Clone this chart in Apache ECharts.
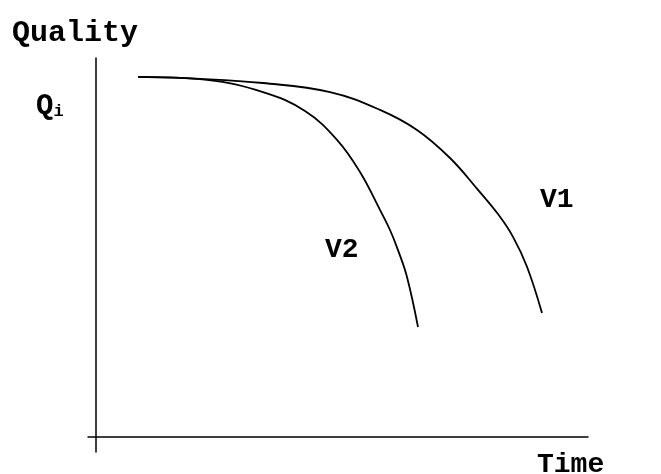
<!DOCTYPE html>
<html>
<head>
<meta charset="utf-8">
<script src="https://cdn.jsdelivr.net/npm/echarts@6/dist/echarts.min.js"></script>
<style>
    html, body { margin: 0; padding: 0; background: #fff; }
    #chart-quality { width: 661px; height: 474px; }
</style>
</head>
<body>
<div id="chart-quality"></div>
<script>
// time (x) and quality (y)
const v1_time    = [8.4, 20.8, 33.4, 46.8, 56.8, 64.2, 70.8, 76.4, 80.4, 83.4, 86.2, 89.2];
const v1_quality = [95.0, 94.5, 93.4, 91.0, 86.3, 81.0, 73.6, 65.2, 58.8, 52.8, 44.9, 32.7];
const v2_time    = [8.4, 22.2, 33.4, 41.8, 48.2, 52.8, 56.8, 58.8, 60.4, 62.2, 64.4];
const v2_quality = [95.0, 94.2, 91.0, 86.0, 78.4, 69.9, 59.9, 54.6, 49.3, 42.2, 29.0];
const series_names = ['V1', 'V2'];

const FONT = "'Courier New', 'Liberation Mono', monospace";
const LINE_COLOR = '#000';

function zip(xs, ys) {
    return xs.map(function (x, i) { return [x, ys[i]]; });
}

let chart_quality = echarts.init(document.getElementById('chart-quality'));

let axis_common = {
    type: 'value',
    axisLine: { show: true, onZero: true, lineStyle: { color: LINE_COLOR, width: 1.5 } },
    axisTick: { show: false },
    axisLabel: { show: false },
    splitLine: { show: false }
};

let option = {
    animation: false,
    grid: { left: 88, right: 73, top: 58, bottom: 22 },
    xAxis: Object.assign({}, axis_common, { min: -1.6, max: 98.4 }),
    yAxis: Object.assign({}, axis_common, { min: -4, max: 100 }),
    series: [
        {
            name: series_names[0],
            type: 'line',
            data: zip(v1_time, v1_quality),
            smooth: 0.4,
            showSymbol: false,
            lineStyle: { color: LINE_COLOR, width: 1.8 }
        },
        {
            name: series_names[1],
            type: 'line',
            data: zip(v2_time, v2_quality),
            smooth: 0.4,
            showSymbol: false,
            lineStyle: { color: LINE_COLOR, width: 1.8 }
        }
    ],
    graphic: [
        { type: 'text', left: 12, top: 18, style: { text: 'Quality', font: 'bold 30px ' + FONT, fill: '#000' } },
        { type: 'text', left: 537, top: 451, style: { text: 'Time', font: 'bold 28px ' + FONT, fill: '#000' } },
        {
            type: 'text', left: 36, top: 92,
            style: {
                text: '{q|Q}{s|i}',
                rich: {
                    q: { font: 'bold 29px ' + FONT, fill: '#000' },
                    s: { font: 'bold 17px ' + FONT, fill: '#000', padding: [10, 0, 0, 0] }
                }
            }
        },
        { type: 'text', left: 540, top: 186, style: { text: series_names[0], font: 'bold 28px ' + FONT, fill: '#000' } },
        { type: 'text', left: 325, top: 236, style: { text: series_names[1], font: 'bold 28px ' + FONT, fill: '#000' } }
    ]
};
chart_quality.setOption(option);

window.addEventListener('resize', function () {
    chart_quality?.resize();
});
</script>
</body>
</html>
